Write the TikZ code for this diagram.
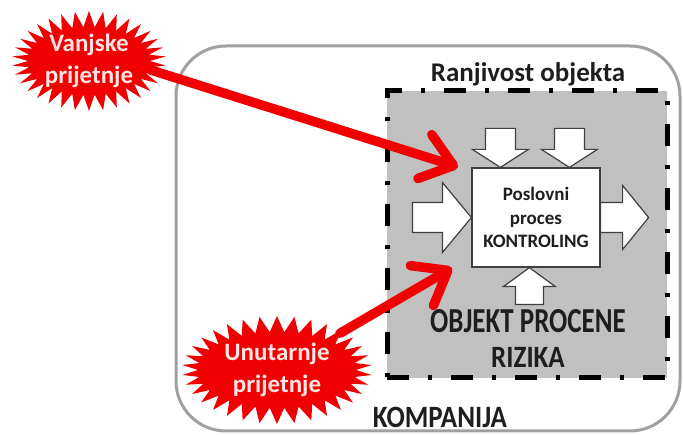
\documentclass[tikz,border=0pt]{standalone}
\usepackage{fontspec}
\usepackage{graphicx}
\setmainfont{Carlito}
\usetikzlibrary{shapes.symbols,arrows.meta,calc}
\definecolor{boxgray}{RGB}{192,192,192}
\definecolor{framegray}{RGB}{160,160,160}
\definecolor{burstred}{RGB}{240,0,0}
\definecolor{bursttext}{RGB}{255,228,228}
\definecolor{inkgray}{RGB}{30,30,30}
\begin{document}
\begin{tikzpicture}[x=1pt,y=-1pt,
  burst/.style={starburst, starburst points=34, starburst point height=16pt,
    random starburst=0, fill=burstred, draw=none, text=bursttext, align=center,
    font=\bfseries\fontsize{25}{32}\selectfont, inner xsep=-24pt, inner ysep=-12pt},
  threat/.style={draw=burstred, line width=9.5pt, line cap=round,
    -{Straight Barb[length=30pt,width=46pt,line cap=round,line join=round]}},
  blockarrow/.style={fill=white, draw=black!75, line width=1.2pt, line join=miter},
  lbl/.style={font=\bfseries\fontsize{27}{35}\selectfont, text=inkgray, align=center, inner sep=0pt}
]
\useasboundingbox (0,0) rectangle (683,435);
% company frame
\node[draw=framegray, line width=3pt, rounded corners=50pt,
      minimum width=504pt, minimum height=385pt] (kompanija) at (428,238.5) {};
% risk object area
\node[fill=boxgray, draw=black, line width=5pt,
      dash pattern=on 22pt off 19pt on 4pt off 19pt,
      minimum width=280pt, minimum height=287pt] (objekt) at (527,234.5) {};
% business process box
\node[fill=white, draw=black!75, line width=1.2pt, minimum width=128pt, minimum height=99pt,
      align=center, font=\bfseries\fontsize{19}{23.5}\selectfont, text=inkgray] (proc) at (536,217.5)
      {Poslovni\\proces\\KONTROLING};
% block arrows
\draw[blockarrow] (proc.west) -- ++(-29,-35) -- ++(0,20) -- ++(-30,0) -- ++(0,30)
      -- ++(30,0) -- ++(0,20) -- cycle;
\draw[blockarrow] ($(proc.east)+(0,-15)$) -- ++(22,0) -- ++(0,-17) -- ++(26,32)
      -- ++(-26,32) -- ++(0,-17) -- ++(-22,0) -- cycle;
\draw[blockarrow] ($(proc.north west)+(29,0)$) -- ++(-28,-18) -- ++(13,0) -- ++(0,-21)
      -- ++(30,0) -- ++(0,21) -- ++(13,0) -- cycle;
\draw[blockarrow] ($(proc.north west)+(98,0)$) -- ++(-28,-18) -- ++(13,0) -- ++(0,-21)
      -- ++(30,0) -- ++(0,21) -- ++(13,0) -- cycle;
\draw[blockarrow] ($(proc.south west)+(58,0)$) -- ++(-26,19) -- ++(12,0) -- ++(0,18)
      -- ++(28,0) -- ++(0,-18) -- ++(12,0) -- cycle;
% labels
\node[lbl, anchor=base] (ranj) at (528,82) {Ranjivost objekta};
\node[lbl, anchor=base] (opr) at (528,368)
      {\scalebox{1}[1.3]{OBJEKT PROCENE}\\\scalebox{1}[1.15]{RIZIKA}};
\node[lbl, anchor=base] (komp) at (440,428) {\scalebox{1}[1.15]{KOMPANIJA}};
% threats
\node[burst, minimum width=154pt, minimum height=100pt] (vanjske) at (89,61)
      {Vanjske\\prijetnje};
\node[burst, minimum width=190pt, minimum height=108pt] (unutarnje) at (277,370)
      {Unutarnje\\prijetnje};
\coordinate (t1) at (458,167);
\coordinate (t2) at (452,268);
\draw[threat] ($(vanjske.east)+(0,9)$) -- (t1);
\draw[threat] (unutarnje) -- (t2);
\end{tikzpicture}
\end{document}
